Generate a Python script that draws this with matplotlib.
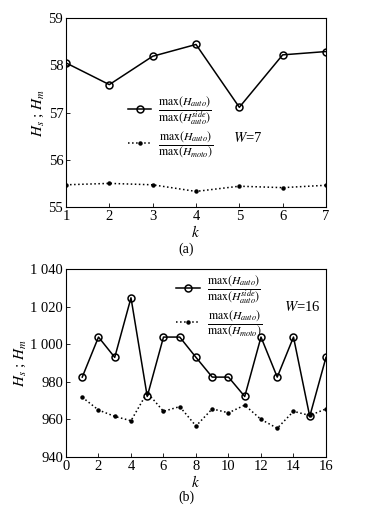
import numpy as np
import matplotlib
matplotlib.use("Agg")
import matplotlib.pyplot as plt
from matplotlib.lines import Line2D

plt.rcParams['font.family'] = ['Liberation Serif', 'DejaVu Serif']
plt.rcParams['mathtext.fontset'] = 'stix'

# Panel (a), W=7
k_a = [1, 2, 3, 4, 5, 6, 7]
side_a = [58.05, 57.59, 58.19, 58.44, 57.11, 58.22, 58.29]
full_a = [55.47, 55.50, 55.47, 55.33, 55.44, 55.41, 55.46]

# Panel (b), W=16
k_b = list(range(1, 17))
side_b = [982.5, 1003.8, 993.0, 1024.7, 972.2, 1003.8, 1003.8, 993.0,
          982.5, 982.5, 972.2, 1003.8, 982.5, 1003.8, 961.6, 993.0]
full_b = [971.8, 965.0, 961.6, 959.3, 974.3, 964.3, 966.8, 956.5,
          965.6, 963.5, 967.6, 960.0, 955.3, 964.3, 962.1, 965.6]

lab1 = r'$\dfrac{\mathrm{max}(H_{auto})}{\mathrm{max}(H^{side}_{auto})}$'
lab2 = r'$\dfrac{\mathrm{max}(H_{auto})}{\mathrm{max}(H_{moto})}$'

fig = plt.figure(figsize=(3.76, 5.07), dpi=100)
ax_a = fig.add_axes([0.1755, 0.5917, 0.6915, 0.3728])
ax_b = fig.add_axes([0.1755, 0.0986, 0.6915, 0.3708])


def draw(ax, k, side, full):
    ax.plot(k, side, '-', color='black', lw=1.1, marker='o', ms=5,
            mfc='none', mec='black', mew=1.1)
    ax.plot(k, full, ':', color='black', lw=1.1, marker='o', ms=2.2,
            mfc='black', mec='black')
    ax.tick_params(direction='in', length=3, width=0.6, labelsize=10.5,
                   pad=2)
    for s in ax.spines.values():
        s.set_linewidth(0.8)
    ax.set_xlabel('$k$', fontsize=11, labelpad=1)
    ax.set_ylabel('$H_s$ ; $H_m$', fontsize=11, labelpad=2)
    handles = [Line2D([], [], color='black', lw=1.1, marker='o', ms=5,
                      mfc='none', mew=1.1),
               Line2D([], [], color='black', lw=1.1, ls=':', marker='o',
                      ms=2.2)]
    return handles


h = draw(ax_a, k_a, side_a, full_a)
ax_a.set_xlim(1, 7)
ax_a.set_ylim(55, 59)
ax_a.set_xticks(k_a)
ax_a.set_yticks([55, 56, 57, 58, 59])
ax_a.legend(h, [lab1, lab2], loc='center left', bbox_to_anchor=(0.215, 0.42),
            frameon=False, fontsize=8.5, handlelength=2.0, handletextpad=0.6,
            labelspacing=0.2, borderpad=0)
ax_a.text(4.85, 56.45, '$W$=7', fontsize=10.5, va='center')
fig.text(0.495, 0.508, '(a)', ha='center', va='center', fontsize=10)

h = draw(ax_b, k_b, side_b, full_b)
ax_b.set_xlim(0, 16)
ax_b.set_ylim(940, 1040)
ax_b.set_xticks(range(0, 17, 2))
ax_b.set_yticks([940, 960, 980, 1000, 1020, 1040])
ax_b.set_yticklabels(['940', '960', '980', '1 000', '1 020', '1 040'])
ax_b.legend(h, [lab1, lab2], loc='center left', bbox_to_anchor=(0.4, 0.80),
            frameon=False, fontsize=8.5, handlelength=2.0, handletextpad=0.6,
            labelspacing=0.2, borderpad=0)
ax_b.text(13.4, 1020, '$W$=16', fontsize=10.5, va='center')
fig.text(0.495, 0.02, '(b)', ha='center', va='center', fontsize=10)

fig.savefig('out.png', dpi=100)
